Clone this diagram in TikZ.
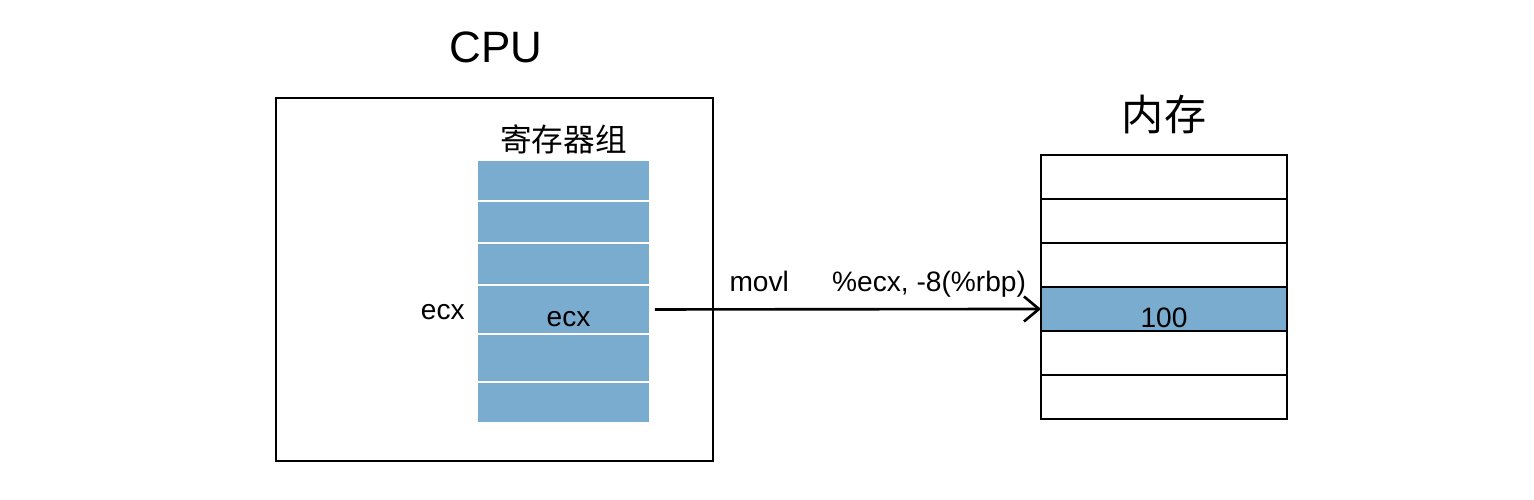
\documentclass[tikz,border=0pt]{standalone}
\usepackage{fontspec}
\setmainfont{Liberation Sans}
\newfontfamily\cjk{Noto Sans CJK SC}
\usepackage{xcolor}
\usetikzlibrary{arrows.meta,positioning}
\definecolor{regblue}{RGB}{122,172,208}

\begin{document}
\begin{tikzpicture}[
    x=0.02cm, y=-0.02cm,
    node distance=0.04cm,
    reg/.style={fill=regblue, minimum width=3.42cm, inner sep=0pt, outer sep=0pt},
    cell/.style={draw, line width=0.8pt, minimum width=4.92cm, minimum height=0.88cm, inner sep=0pt, outer sep=0pt},
    title/.style={inner sep=0pt, font=\fontsize{25}{28}\selectfont},
    txt/.style={inner sep=0pt, font=\fontsize{16}{19}\selectfont},
    arrow/.style={-{Straight Barb[length=3mm,width=5mm]}, line width=1.5pt}
  ]
    \useasboundingbox (0,0) rectangle (1534,500);

    % CPU
    \node[draw, line width=1pt, minimum width=8.74cm, minimum height=7.26cm, inner sep=0pt, outer sep=0pt] (cpu) at (494.5,279.5) {};
    \node[title, above=0.7cm of cpu, xshift=0.03cm] (cputitle) {CPU};

    % register group
    \node[reg, minimum height=0.78cm, anchor=north] (r1) at (563.5,161) {};
    \node[reg, minimum height=0.80cm, below=of r1] (r2) {};
    \node[reg, minimum height=0.80cm, below=of r2] (r3) {};
    \node[reg, minimum height=0.94cm, below=of r3] (r4) {};
    \node[reg, minimum height=0.92cm, below=of r4] (r5) {};
    \node[reg, minimum height=0.78cm, below=of r5] (r6) {};
    \node[inner sep=0pt, font=\cjk\fontsize{18}{20}\selectfont, above=0.13cm of r1] (regtitle) {寄存器组};
    \node[txt, xshift=0.1cm, yshift=-0.19cm] (regecx) at (r4) {ecx};
    \node[txt, left=0.26cm of r4, yshift=-0.05cm] (ecx) {ecx};

    % memory
    \node[cell, anchor=north] (m1) at (1164,155) {};
    \node[cell, below=0pt of m1] (m2) {};
    \node[cell, below=0pt of m2] (m3) {};
    \node[cell, fill=regblue, below=0pt of m3] (m4) {};
    \node[cell, below=0pt of m4] (m5) {};
    \node[cell, below=0pt of m5] (m6) {};
    \node[inner sep=0pt, font=\cjk\fontsize{24}{26}\selectfont, above=0.42cm of m1] (memtitle) {内存};
    \node[txt, yshift=-0.17cm] (val) at (m4) {100};

    % instruction
    \draw[arrow] ([xshift=0.12cm]r4.east) -- (m4.west)
      node[txt, pos=0.27, anchor=base, yshift=0.36cm] (op) {movl}
      node[txt, pos=0.71, anchor=base, yshift=0.36cm] (args) {\%ecx, -8(\%rbp)};
  \end{tikzpicture}
\end{document}
